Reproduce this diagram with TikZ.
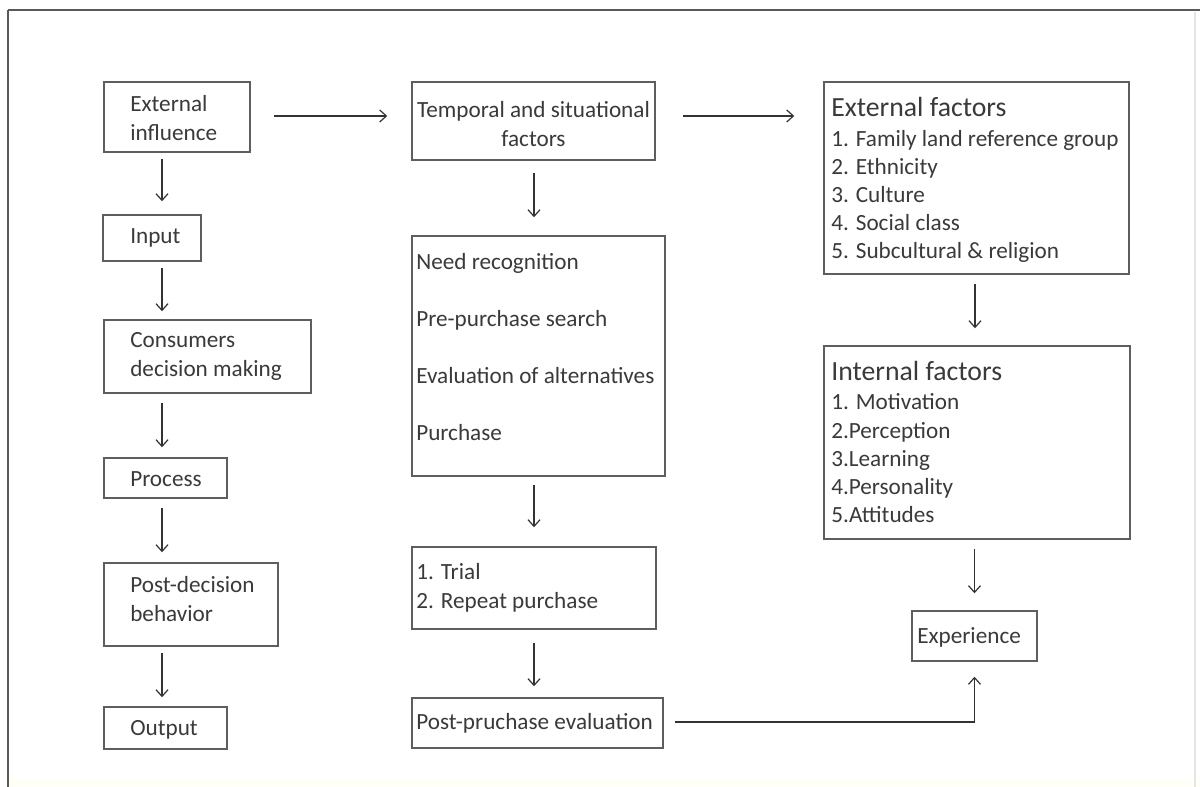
\documentclass[tikz,border=0pt]{standalone}
\usepackage{fontspec}
\setmainfont{Carlito}
\usetikzlibrary{arrows.meta,fit,calc}
\definecolor{txt}{HTML}{3A3A3A}
\definecolor{brd}{HTML}{5E5E5E}
\definecolor{arrc}{HTML}{333333}
\tikzset{
  box/.style={draw=brd, line width=1.1pt, inner sep=0pt},
  lbl/.style={text=txt, inner sep=0pt, align=left, font=\fontsize{17.4}{21.75}\selectfont},
  ttl/.style={text=txt, inner sep=0pt, align=left, font=\fontsize{20.8}{24}\selectfont},
  arr/.style={draw=arrc, line width=0.8pt, -{Straight Barb[length=5pt,width=9pt,line width=0.9pt]}},
}
\newcommand\bx[5]{\node[box, fit={(#2,#3)(#4,#5)}] (#1) {};}
\begin{document}
\begin{tikzpicture}[x=0.75pt,y=-0.75pt]
\useasboundingbox (0,0) rectangle (1200,787);
% frame
\fill[white] (0,0) rectangle (1200,787);
\fill[black!2!yellow!3] (9,779) rectangle (1200,787);
\draw[black!65, line width=1.2pt] (8,10) -- (1200,10);
\draw[black!65, line width=1.2pt] (8,10) -- (8,787);
\draw[black!10, line width=0.8pt] (1195,12) -- (1195,787);
% left column boxes
\bx{ext}{104}{82}{250}{152}
\bx{inp}{103}{215}{201}{261}
\bx{con}{104}{320}{311}{393}
\bx{pro}{104}{458}{227}{498}
\bx{post}{104}{563}{278}{646}
\bx{out}{104}{707}{227}{749}
% middle column
\bx{tem}{412}{82}{655}{160}
\bx{need}{412}{236}{665}{476}
\bx{trial}{412}{547}{656}{629}
\bx{ppe}{412}{698}{663}{748}
% right column
\bx{extf}{824}{82}{1129}{274}
\bx{intf}{824}{346}{1130}{539}
\bx{exp}{912}{611}{1037}{661}
% texts
\node[lbl, anchor=west] (text-ext) at (130,118.5) {External\\influence};
\node[lbl, anchor=west] (text-inp) at (130,238) {Input};
\node[lbl, anchor=west] (text-con) at (130,356) {Consumers\\decision making};
\node[lbl, anchor=west] (text-pro) at (130,479) {Process};
\node[lbl, anchor=west] (text-post) at (130,599) {Post-decision\\behavior};
\node[lbl, anchor=west] (text-out) at (130,730) {Output};
\node[lbl, align=center] (text-tem) at (533.5,124) {Temporal and situational\\factors};
\node[lbl, anchor=west, font=\fontsize{17.4}{42.75}\selectfont] (text-need) at (416,347.5) {Need recognition\\Pre-purchase search\\Evaluation of alternatives\\Purchase};
\node[lbl, anchor=west] (text-trial) at (416,587.5) {1. Trial\\2. Repeat purchase};
\node[lbl, anchor=west] (text-ppe) at (416,723) {Post-pruchase evaluation};
\node[ttl, anchor=west] (title-extf) at (831,107) {External factors};
\node[lbl, anchor=west, font=\fontsize{17.4}{21}\selectfont] (text-extf) at (831,196) {1. Family land reference group\\2. Ethnicity\\3. Culture\\4. Social class\\5. Subcultural \& religion};
\node[ttl, anchor=west] (title-intf) at (831,371) {Internal factors};
\node[lbl, anchor=west, font=\fontsize{17.4}{21.2}\selectfont] (text-intf) at (831,458.5) {1. Motivation\\2.Perception\\3.Learning\\4.Personality\\5.Attitudes};
\node[lbl, anchor=west] (text-exp) at (917,637) {Experience};
% connectors
\coordinate (lc) at (162,0);
\coordinate (mc) at (534,0);
\draw[arr] ($(ext.east)+(23,-1)$) -- ($(ext.east -| tem.west)+(-24,-1)$);
\draw[arr] ($(tem.east)+(27,-5)$) -- ($(tem.east -| extf.west)+(-29,-5)$);
\draw[arr] ($(ext.south -| lc)+(0,6)$) -- ($(inp.north -| lc)+(0,-13)$);
\draw[arr] ($(inp.south -| lc)+(0,6)$) -- ($(con.north -| lc)+(0,-8)$);
\draw[arr] ($(con.south -| lc)+(0,9)$) -- ($(pro.north -| lc)+(0,-10)$);
\draw[arr] ($(pro.south -| lc)+(0,9)$) -- ($(post.north -| lc)+(0,-10)$);
\draw[arr] ($(post.south -| lc)+(0,6)$) -- ($(out.north -| lc)+(0,-9)$);
\draw[arr] ($(tem.south -| mc)+(0,12)$) -- ($(need.north -| mc)+(0,-18)$);
\draw[arr] ($(need.south -| mc)+(0,8)$) -- ($(trial.north -| mc)+(0,-19)$);
\draw[arr] ($(trial.south -| mc)+(0,13)$) -- ($(ppe.north -| mc)+(0,-11)$);
\coordinate (rc) at (975,0);
\draw[arr] ($(extf.south -| rc)+(0,9)$) -- ($(intf.north -| rc)+(0,-17)$);
\draw[arr] ($(intf.south -| exp.south)+(0,9)$) -- ($(exp.north)+(0,-17)$);
\draw[arr] ($(ppe.east)+(11,-1)$) -| ($(exp.south)+(0,15)$);
\end{tikzpicture}
\end{document}
